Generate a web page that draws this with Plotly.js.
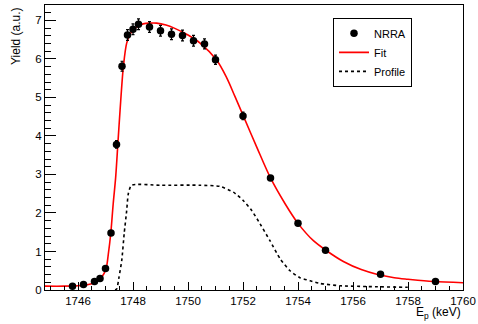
<!DOCTYPE html>
<html>
<head>
<meta charset="utf-8">
<script src="https://cdn.plot.ly/plotly-3.0.1.min.js"></script>
<style>html,body{margin:0;padding:0;background:#fff;}#chart{width:478px;height:324px;}</style>
</head>
<body>
<div id="chart"></div>
<script>
// Measured data (NRRA)
const dataE = [1745.8, 1746.2, 1746.6, 1746.8, 1747.0, 1747.2, 1747.4, 1747.6, 1747.8, 1748.0, 1748.2, 1748.6, 1749.0, 1749.4, 1749.8, 1750.2, 1750.6, 1751.0, 1752.0, 1753.0, 1754.0, 1755.0, 1757.0, 1759.0];
const dataY = [0.10, 0.14, 0.22, 0.30, 0.56, 1.48, 3.78, 5.81, 6.62, 6.77, 6.90, 6.83, 6.73, 6.64, 6.61, 6.47, 6.39, 5.98, 4.52, 2.91, 1.73, 1.03, 0.41, 0.22];
const dataErr = [0.01, 0.01, 0.01, 0.02, 0.03, 0.05, 0.10, 0.13, 0.14, 0.14, 0.14, 0.14, 0.14, 0.14, 0.14, 0.14, 0.13, 0.12, 0.10, 0.06, 0.04, 0.03, 0.02, 0.01];

// Fit curve
const fitE = [1744.8, 1745.5, 1746.0, 1746.3, 1746.5, 1746.62, 1746.75, 1746.86, 1747.02, 1747.10, 1747.19, 1747.28, 1747.37, 1747.45, 1747.53, 1747.65, 1747.77, 1747.9, 1748.01, 1748.2, 1748.37, 1748.6, 1748.86, 1749.2, 1749.5, 1750.0, 1750.44, 1751.04, 1751.4, 1751.71, 1752.0, 1752.5, 1753.0, 1753.53, 1754.0, 1754.56, 1755.04, 1755.65, 1756.3, 1756.86, 1757.5, 1758.0, 1758.92, 1760.0];
const fitY = [0.10, 0.10, 0.11, 0.13, 0.16, 0.20, 0.26, 0.33, 0.55, 0.92, 1.46, 2.24, 2.93, 3.80, 4.67, 5.80, 6.41, 6.65, 6.75, 6.86, 6.91, 6.93, 6.93, 6.88, 6.80, 6.62, 6.41, 5.97, 5.52, 5.02, 4.54, 3.71, 2.91, 2.24, 1.73, 1.28, 1.02, 0.74, 0.53, 0.41, 0.32, 0.28, 0.22, 0.19];

// Beam profile
const profE = [1747.35, 1747.41, 1747.49, 1747.59, 1747.68, 1747.77, 1747.83, 1747.95, 1749.0, 1750.44, 1751.16, 1751.65, 1752.0, 1752.31, 1752.62, 1752.98, 1753.35, 1753.71, 1754.07, 1754.44, 1754.8, 1755.53, 1756.5, 1757.95, 1758.05];
const profY = [0.0, 0.03, 0.33, 0.76, 1.47, 2.06, 2.50, 2.72, 2.72, 2.72, 2.69, 2.54, 2.33, 2.07, 1.72, 1.28, 0.81, 0.50, 0.32, 0.24, 0.17, 0.11, 0.09, 0.07, 0.07];

const names = ["NRRA", "Fit", "Profile"];
const xTitle = "E<sub>p</sub> (keV)";
const yTitle = "Yield (a.u.)";

const font = "Liberation Sans, Arial, Helvetica, sans-serif";

const traces = [
  {
    x: fitE, y: fitY, name: names[1], type: "scatter", mode: "lines",
    line: {color: "#ff0000", width: 1.6, shape: "spline", smoothing: 0.9},
    legendrank: 2
  },
  {
    x: profE, y: profY, name: names[2], type: "scatter", mode: "lines",
    line: {color: "#000000", width: 1.6, dash: "3px,3px", shape: "spline", smoothing: 0.6},
    legendrank: 3
  },
  {
    x: dataE, y: dataY, name: names[0], type: "scatter", mode: "lines+markers",
    line: {color: "#000000", width: 0},
    marker: {color: "#000000", size: 7.5, symbol: "circle"},
    error_y: {type: "data", array: dataErr, visible: true, color: "#000000", thickness: 1.2, width: 1.5},
    legendrank: 1
  }
];

const layout = {
  width: 478, height: 324,
  margin: {l: 45, r: 15, t: 5, b: 34},
  paper_bgcolor: "#ffffff", plot_bgcolor: "#ffffff",
  font: {family: font, size: 12, color: "#000000"},
  showlegend: true,
  legend: {
    x: 0.689, y: 0.955, xanchor: "left", yanchor: "top",
    bgcolor: "#ffffff", bordercolor: "#000000", borderwidth: 1,
    font: {family: font, size: 11, color: "#000000"},
    tracegroupgap: 0, itemwidth: 30, traceorder: "normal",
    entrywidth: 62, entrywidthmode: "pixels"
  },
  xaxis: {
    range: [1744.8, 1760], tickmode: "linear", tick0: 1746, dtick: 2,
    ticks: "inside", ticklen: 8, tickwidth: 1, tickcolor: "#000",
    minor: {dtick: 0.5, ticks: "inside", ticklen: 4, tickcolor: "#000", showgrid: false},
    showline: true, linecolor: "#000", linewidth: 1, mirror: true,
    showgrid: false, zeroline: false,
    tickfont: {family: font, size: 11.5, color: "#000"}
  },
  yaxis: {
    range: [0, 7.4], tickmode: "linear", tick0: 0, dtick: 1,
    ticks: "inside", ticklen: 11, tickwidth: 1, tickcolor: "#000",
    minor: {dtick: 0.2, ticks: "inside", ticklen: 6, tickcolor: "#000", showgrid: false},
    showline: true, linecolor: "#000", linewidth: 1, mirror: true,
    showgrid: false, zeroline: false,
    tickfont: {family: font, size: 11.5, color: "#000"}
  },
  annotations: [
    {text: xTitle, xref: "paper", yref: "paper", x: 1, y: 0, xanchor: "right", yanchor: "top",
     yshift: -13, showarrow: false, font: {family: font, size: 12, color: "#000"}},
    {text: yTitle, xref: "paper", yref: "paper", x: 0, y: 1, xanchor: "right", yanchor: "top",
     xshift: -20, textangle: -90, showarrow: false, font: {family: font, size: 12, color: "#000"}}
  ]
};

Plotly.newPlot("chart", traces, layout, {displayModeBar: false, staticPlot: true});
</script>
</body>
</html>
